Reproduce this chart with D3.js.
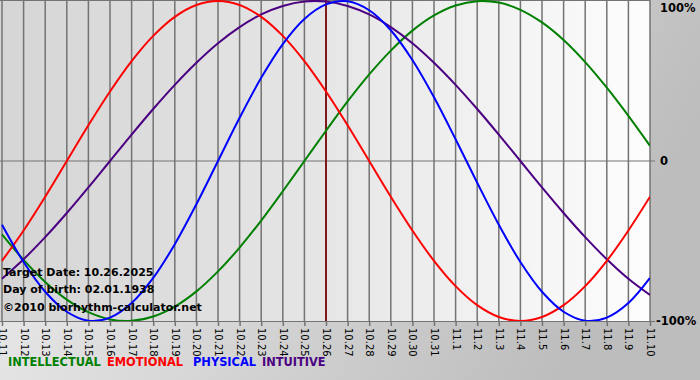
<!DOCTYPE html>
<html><head><meta charset="utf-8">
<script src="https://cdn.jsdelivr.net/npm/d3@7"></script>
<style>html,body{margin:0;padding:0;overflow:hidden}svg{display:block}</style>
</head><body>
<svg id="c" width="700" height="380"></svg>
<script>
const dayLabels = ["10.11","10.12","10.13","10.14","10.15","10.16","10.17","10.18","10.19","10.20","10.21","10.22","10.23","10.24","10.25","10.26","10.27","10.28","10.29","10.30","10.31","11.1","11.2","11.3","11.4","11.5","11.6","11.7","11.8","11.9","11.10"];
const physical = [-0.398,-0.631,-0.817,-0.942,-0.998,-0.979,-0.888,-0.731,-0.520,-0.270,0,0.270,0.520,0.731,0.888,0.979,0.998,0.942,0.817,0.631,0.398,0.136,-0.136,-0.398,-0.631,-0.817,-0.942,-0.998,-0.979,-0.888,-0.731];
const emotional = [-0.624,-0.434,-0.223,0,0.223,0.434,0.624,0.782,0.901,0.975,1,0.975,0.901,0.782,0.624,0.434,0.223,0,-0.223,-0.434,-0.624,-0.782,-0.901,-0.975,-1,-0.975,-0.901,-0.782,-0.624,-0.434,-0.223];
const intellectual = [-0.458,-0.618,-0.756,-0.866,-0.945,-0.990,-0.999,-0.972,-0.910,-0.815,-0.690,-0.541,-0.372,-0.189,0,0.189,0.372,0.541,0.690,0.815,0.910,0.972,0.999,0.990,0.945,0.866,0.756,0.618,0.458,0.282,0.095];
const intuitive = [-0.736,-0.614,-0.476,-0.325,-0.165,0,0.165,0.325,0.476,0.614,0.736,0.837,0.916,0.969,0.997,0.997,0.969,0.916,0.837,0.736,0.614,0.476,0.325,0.165,0,-0.165,-0.325,-0.476,-0.614,-0.736,-0.837];
const seriesNames = ["INTELLECTUAL","EMOTIONAL","PHYSICAL","INTUITIVE"];
const seriesColors = ["#008000","#ff0000","#0000ff","#4b0082"];
const yTickValues = [1,0,-1];
const yTickLabels = ["100%","0","-100%"];
const targetIndex = 15;
const infoLines = ["Target Date: 10.26.2025","Day of birth: 02.01.1938","©2010 biorhythm-calculator.net"];

const svg = d3.select("#c");
const W=700,H=380, L=2, R=650, T=1, B=321;
const defs = svg.append("defs");
const bg = defs.append("linearGradient").attr("id","bg").attr("x1","0").attr("y1","0").attr("x2","1").attr("y2","0.3");
bg.append("stop").attr("offset","0").attr("stop-color","#f2f2f2");
bg.append("stop").attr("offset","1").attr("stop-color","#bdbdbd");
const pg = defs.append("linearGradient").attr("id","pg").attr("x1","0").attr("y1","0").attr("x2","1").attr("y2","0");
pg.append("stop").attr("offset","0").attr("stop-color","#d5d5d5");
pg.append("stop").attr("offset","0.5").attr("stop-color","#e6e6e6");
pg.append("stop").attr("offset","1").attr("stop-color","#fdfdfd");
defs.append("clipPath").attr("id","clip").append("rect").attr("x",0).attr("y",0).attr("width",R).attr("height",B);

svg.append("rect").attr("width",W).attr("height",H).attr("fill","url(#bg)");
svg.append("rect").attr("x",0).attr("y",0).attr("width",R).attr("height",B).attr("fill","url(#pg)");

const x = d3.scaleLinear().domain([0,dayLabels.length-1]).range([L,R]);
const y = d3.scaleLinear().domain([-1,1]).range([B,T]);

// vertical grid
svg.append("g").selectAll("line").data(dayLabels).join("line")
  .attr("x1",(d,i)=>x(i)).attr("x2",(d,i)=>x(i)).attr("y1",0).attr("y2",B)
  .attr("stroke","#737373").attr("stroke-width",1.5);
// top border
svg.append("line").attr("x1",0).attr("x2",R).attr("y1",0.5).attr("y2",0.5).attr("stroke","#737373");
// zero line
svg.append("line").attr("x1",0).attr("x2",R+5).attr("y1",y(0)).attr("y2",y(0)).attr("stroke","#737373").attr("stroke-width",1);
// bottom axis
const xAxis = d3.axisBottom(x).tickValues(d3.range(dayLabels.length)).tickFormat(i=>dayLabels[i]).tickSize(5).tickSizeOuter(0);
const ax = svg.append("g").attr("transform",`translate(0,${B})`).call(xAxis);
ax.select(".domain").attr("stroke","#737373").attr("d",`M0,0.5H${R+5}`);
ax.selectAll(".tick line").attr("stroke","#737373").attr("stroke-width",1.5);
ax.selectAll(".tick text").attr("font-family","DejaVu Sans, Verdana, sans-serif").attr("font-size",10).attr("fill","#000")
  .attr("transform","rotate(90)").attr("text-anchor","start").attr("x",7).attr("y",0).attr("dy","0.35em");

// target line
svg.append("line").attr("x1",x(targetIndex)).attr("x2",x(targetIndex)).attr("y1",0).attr("y2",B)
  .attr("stroke","#801a1a").attr("stroke-width",2);

// curves
const data = [intellectual, emotional, physical, intuitive];
const line = d3.line().x((d,i)=>x(i)).y(d=>y(d)).curve(d3.curveCatmullRom.alpha(0.5));
const g = svg.append("g").attr("clip-path","url(#clip)");
[0,3,1,2].forEach(k=>{
  g.append("path").attr("d",line(data[k])).attr("fill","none").attr("stroke",seriesColors[k]).attr("stroke-width",2);
});

// y labels
svg.append("g").selectAll("text").data(yTickValues).join("text")
  .attr("x",(d,i)=>i===2?656:660).attr("y",(d,i)=>i===0?12:(i===1?y(d)+4:y(d)+4))
  .attr("font-family","DejaVu Sans, Verdana, sans-serif").attr("font-weight","bold").attr("font-size",11.5).attr("fill","#000")
  .text((d,i)=>yTickLabels[i]);

// info text
svg.append("g").selectAll("text").data(infoLines).join("text")
  .attr("x",3).attr("y",(d,i)=>[276,293,311][i])
  .attr("font-family","DejaVu Sans, Verdana, sans-serif").attr("font-weight","bold").attr("font-size",11).attr("fill","#000")
  .text(d=>d);

// legend
const lx = [8,107,193,262];
svg.append("g").selectAll("text").data(seriesNames).join("text")
  .attr("x",(d,i)=>lx[i]).attr("y",366)
  .attr("font-family","DejaVu Sans, Verdana, sans-serif").attr("font-weight","bold").attr("font-size",11.4)
  .attr("fill",(d,i)=>seriesColors[i]).text(d=>d);
</script>
</body></html>
